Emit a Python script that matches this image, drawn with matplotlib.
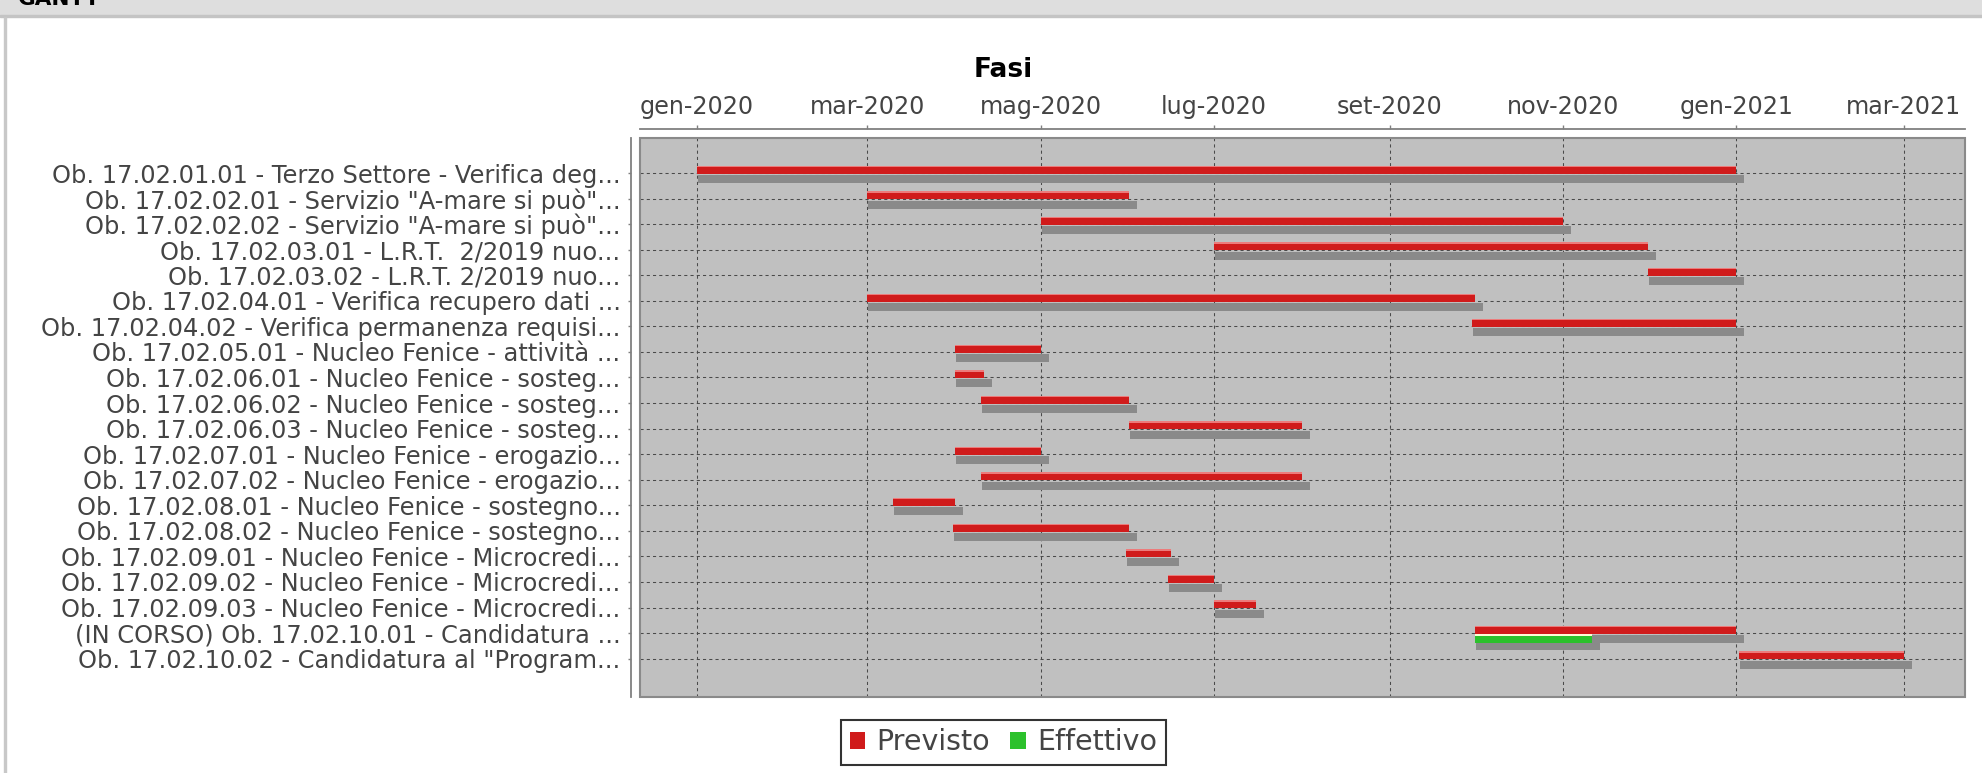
import matplotlib
matplotlib.use("Agg")
import matplotlib.pyplot as plt
import matplotlib.dates as mdates
from matplotlib.patches import Patch, Rectangle
import pandas as pd

# task labels (top to bottom)
labels = [
    'Ob. 17.02.01.01 - Terzo Settore - Verifica deg...',
    'Ob. 17.02.02.01 - Servizio "A-mare si può"...',
    'Ob. 17.02.02.02 - Servizio "A-mare si può"...',
    'Ob. 17.02.03.01 - L.R.T.  2/2019 nuo...',
    'Ob. 17.02.03.02 - L.R.T. 2/2019 nuo...',
    'Ob. 17.02.04.01 - Verifica recupero dati ...',
    'Ob. 17.02.04.02 - Verifica permanenza requisi...',
    'Ob. 17.02.05.01 - Nucleo Fenice - attività ...',
    'Ob. 17.02.06.01 - Nucleo Fenice - sosteg...',
    'Ob. 17.02.06.02 - Nucleo Fenice - sosteg...',
    'Ob. 17.02.06.03 - Nucleo Fenice - sosteg...',
    'Ob. 17.02.07.01 - Nucleo Fenice - erogazio...',
    'Ob. 17.02.07.02 - Nucleo Fenice - erogazio...',
    'Ob. 17.02.08.01 - Nucleo Fenice - sostegno...',
    'Ob. 17.02.08.02 - Nucleo Fenice - sostegno...',
    'Ob. 17.02.09.01 - Nucleo Fenice - Microcredi...',
    'Ob. 17.02.09.02 - Nucleo Fenice - Microcredi...',
    'Ob. 17.02.09.03 - Nucleo Fenice - Microcredi...',
    '(IN CORSO) Ob. 17.02.10.01 - Candidatura ...',
    'Ob. 17.02.10.02 - Candidatura al "Program...',
]

# "Previsto" (planned) start / end dates, end inclusive
prev_start = ['2020-01-01', '2020-03-01', '2020-05-01', '2020-07-01', '2020-12-01',
              '2020-03-01', '2020-09-30', '2020-04-01', '2020-04-01', '2020-04-10',
              '2020-06-01', '2020-04-01', '2020-04-10', '2020-03-10', '2020-03-31',
              '2020-05-31', '2020-06-15', '2020-07-01', '2020-10-01', '2021-01-02']
prev_end = ['2020-12-31', '2020-05-31', '2020-10-31', '2020-11-30', '2020-12-31',
            '2020-09-30', '2020-12-31', '2020-04-30', '2020-04-10', '2020-05-31',
            '2020-07-31', '2020-04-30', '2020-07-31', '2020-03-31', '2020-05-31',
            '2020-06-15', '2020-06-30', '2020-07-15', '2020-12-31', '2021-02-28']

# "Effettivo" (actual), only for the task in progress
eff_start = [None] * 18 + ['2020-10-01', None]
eff_end = [None] * 18 + ['2020-11-10', None]

tick_dates = ['2020-01-01', '2020-03-01', '2020-05-01', '2020-07-01',
              '2020-09-01', '2020-11-01', '2021-01-01', '2021-03-01']
tick_labels = ['gen-2020', 'mar-2020', 'mag-2020', 'lug-2020',
               'set-2020', 'nov-2020', 'gen-2021', 'mar-2021']

RED = '#d01b1b'
RED_HI = '#ec7b7b'
GREEN = '#2cc12c'
GREEN_HI = '#fffbd8'
SHADOW = '#8a8a8a'
TXT = '#444444'

W, H = 1982, 773
RS = 25.56   # pixels per row
DP = 2.84    # pixels per day


def d(s):
    return mdates.date2num(pd.Timestamp(s))


fig = plt.figure(figsize=(W / 100, H / 100), dpi=100)

# panel decoration: header band, its border, left border
fig.patches.append(Rectangle((0, 1 - 15 / H), 1, 15 / H, transform=fig.transFigure,
                             color='#dedede', zorder=0))
fig.patches.append(Rectangle((0, 1 - 17 / H), 1, 2 / H, transform=fig.transFigure,
                             color='#c4c4c4', zorder=0))
fig.patches.append(Rectangle((4 / W, 0), 2 / W, 1 - 17 / H, transform=fig.transFigure,
                             color='#c8c8c8', zorder=0))
fig.text(18 / W, 1 - 5 / H, 'GANTT', fontsize=15.5, fontweight='bold',
         va='baseline', ha='left', color='black')

ax = fig.add_axes([640 / W, 1 - 697 / H, 1325 / W, 559 / H])
ax.set_facecolor('#c0c0c0')

for i in range(len(labels)):
    s = d(prev_start[i])
    e = d(prev_end[i]) + 1
    # shadow, then bar, then light top stripe
    ax.barh(i + 6 / RS, e - s + 7 / DP, left=s + 1 / DP, height=8 / RS,
            color=SHADOW, zorder=2, linewidth=0)
    ax.barh(i - 3.3 / RS, e - s, left=s, height=8 / RS, color=RED, zorder=3, linewidth=0)
    ax.barh(i - 6.6 / RS, e - s, left=s, height=1.4 / RS, color=RED_HI, zorder=4, linewidth=0)
    if eff_start[i] is not None:
        gs = d(eff_start[i])
        ge = d(eff_end[i]) + 1
        ax.barh(i + 13 / RS, ge - gs + 7 / DP, left=gs + 1 / DP, height=8.7 / RS,
                color=SHADOW, zorder=2, linewidth=0)
        ax.barh(i + 5.35 / RS, ge - gs, left=gs, height=9.3 / RS, color=GREEN,
                zorder=3, linewidth=0)
        ax.barh(i + 2.05 / RS, ge - gs, left=gs, height=2.7 / RS, color=GREEN_HI,
                zorder=4, linewidth=0)

ax.set_xlim(d('2020-01-01') - 20.1, d('2021-03-01') + 21.5)
ax.set_ylim(20.5, -1.37)

ax.xaxis.tick_top()
ax.set_xticks([d(t) for t in tick_dates])
ax.set_xticklabels(tick_labels)
ax.set_yticks(range(len(labels)))
ax.set_yticklabels(labels)

ax.tick_params(axis='x', direction='out', length=3, width=1, color='#808080',
               pad=4, labelsize=17.2, labelcolor=TXT)
ax.tick_params(axis='y', direction='out', length=2.5, width=1, color='#808080',
               pad=5, labelsize=17.4, labelcolor=TXT)

ax.set_axisbelow(True)
ax.grid(True, color='#4a4a4a', linestyle=(0, (3, 3)), linewidth=0.75)

for side in ['right', 'bottom']:
    ax.spines[side].set_visible(False)
for side in ['top', 'left']:
    ax.spines[side].set_position(('outward', 6.5))
    ax.spines[side].set_color('#808080')
    ax.spines[side].set_linewidth(1.3)

ax.add_patch(Rectangle((0, 0), 1, 1, transform=ax.transAxes, fill=False,
                       edgecolor='#8a8a8a', linewidth=1.5, zorder=6, clip_on=False))

fig.text(1003 / W, 1 - 77 / H, 'Fasi', fontsize=19, fontweight='bold',
         ha='center', va='baseline', color='black')

handles = [Patch(facecolor=RED), Patch(facecolor=GREEN)]
leg = fig.legend(handles, ['Previsto', 'Effettivo'], loc='center',
                 bbox_to_anchor=(1003.5 / W, 1 - 742.5 / H), ncol=2,
                 frameon=True, fancybox=False, edgecolor='black',
                 fontsize=20.5, labelcolor=TXT, handlelength=0.55, handleheight=0.55,
                 handletextpad=0.4, columnspacing=0.7, borderpad=0.3,
                 borderaxespad=0)
leg.get_frame().set_linewidth(1.5)

fig.savefig('out.png', dpi=100)
